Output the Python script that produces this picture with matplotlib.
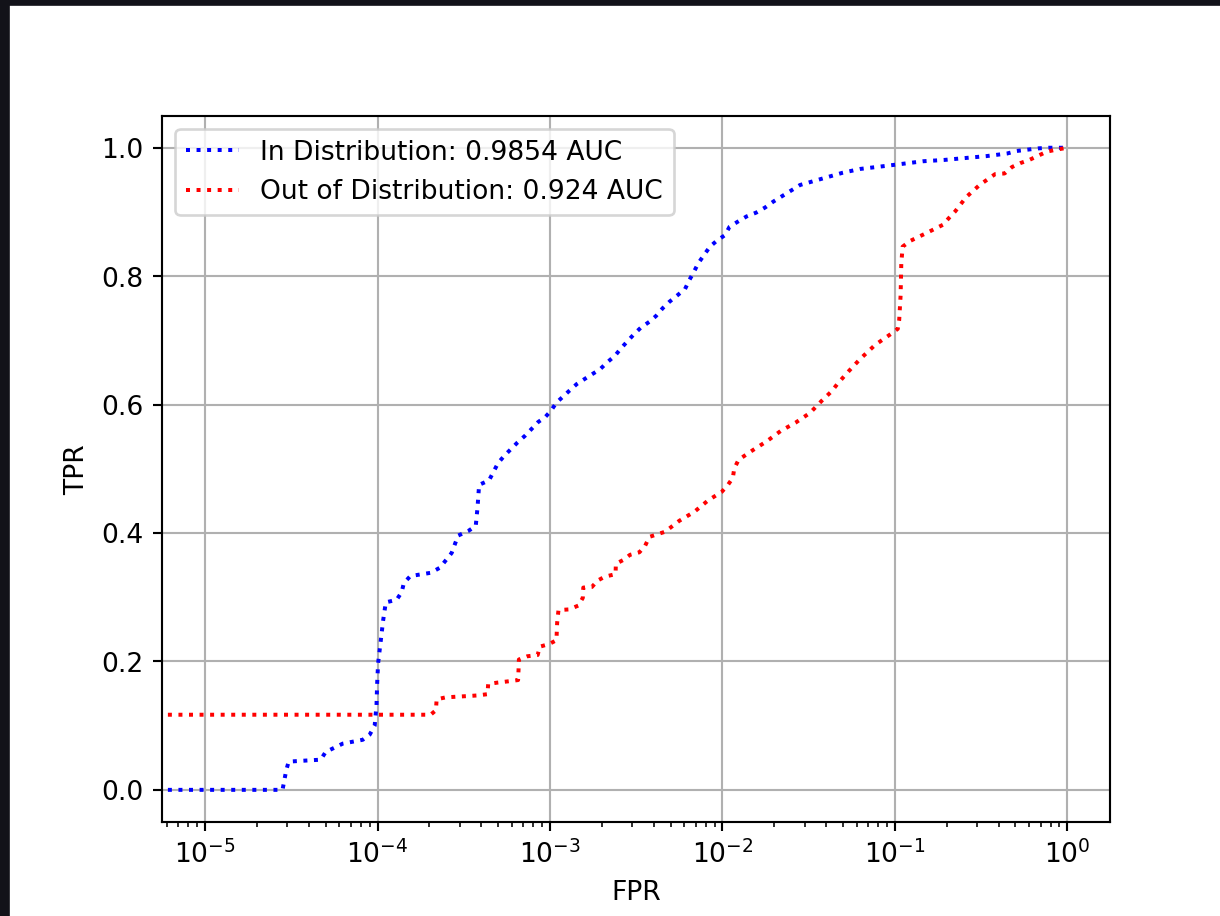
import matplotlib
matplotlib.use('Agg')
import matplotlib.pyplot as plt
from matplotlib.patches import Rectangle

# ROC points (log x axis)
fpr_in = [0, 2.81e-5, 2.95e-5, 3.05e-5, 4.68e-5, 5.0e-5, 6.28e-5, 8.2e-5, 9.0e-5, 9.62e-5,
          9.86e-5, 9.94e-5, 1.007e-4, 1.04e-4, 1.076e-4, 1.116e-4, 1.29e-4, 1.38e-4, 1.42e-4,
          1.55e-4, 2.03e-4, 2.30e-4, 2.69e-4, 2.93e-4, 3.35e-4, 3.71e-4, 3.80e-4, 3.88e-4,
          4.43e-4, 5.0e-4, 5.42e-4, 6.48e-4, 7.2e-4, 8.55e-4, 9.34e-4, 1.01e-3, 1.09e-3,
          1.30e-3, 1.43e-3, 1.70e-3, 1.95e-3, 2.15e-3, 2.38e-3, 2.57e-3, 2.82e-3, 3.08e-3,
          3.37e-3, 3.77e-3, 4.12e-3, 4.50e-3, 4.92e-3, 5.47e-3, 6.07e-3, 6.43e-3, 6.84e-3,
          7.24e-3, 7.82e-3, 8.47e-3, 9.26e-3, 1.035e-2, 1.10e-2, 1.23e-2, 1.38e-2, 1.57e-2,
          1.77e-2, 1.97e-2, 2.23e-2, 2.82e-2, 3.8e-2, 4.97e-2, 6.29e-2, 8.41e-2, 0.111,
          0.146, 0.193, 0.256, 0.340, 0.447, 0.510, 0.676, 0.778, 1.0]
tpr_in = [0, 0, 0.030, 0.044, 0.047, 0.059, 0.072, 0.078, 0.086, 0.100,
          0.132, 0.165, 0.197, 0.229, 0.263, 0.292, 0.296, 0.308, 0.322,
          0.333, 0.338, 0.346, 0.369, 0.396, 0.403, 0.411, 0.440, 0.475,
          0.482, 0.509, 0.520, 0.541, 0.552, 0.573, 0.580, 0.590, 0.603,
          0.622, 0.632, 0.645, 0.655, 0.666, 0.676, 0.687, 0.699, 0.710,
          0.720, 0.729, 0.738, 0.750, 0.760, 0.770, 0.780, 0.794, 0.807,
          0.820, 0.833, 0.846, 0.855, 0.864, 0.877, 0.885, 0.893, 0.899,
          0.907, 0.916, 0.925, 0.942, 0.952, 0.961, 0.967, 0.971, 0.975,
          0.979, 0.981, 0.984, 0.987, 0.991, 0.995, 0.999, 1.0, 1.0]

fpr_out = [0, 0, 2.03e-4, 2.18e-4, 2.20e-4, 2.48e-4, 2.84e-4, 3.30e-4, 3.78e-4, 4.34e-4,
           4.38e-4, 4.96e-4, 5.72e-4, 6.53e-4, 6.57e-4, 6.60e-4, 7.38e-4, 8.48e-4, 8.73e-4,
           9.86e-4, 1.09e-3, 1.10e-3, 1.12e-3, 1.29e-3, 1.46e-3, 1.55e-3, 1.56e-3, 1.75e-3,
           1.89e-3, 2.08e-3, 2.40e-3, 2.41e-3, 2.66e-3, 2.91e-3, 3.30e-3, 3.56e-3, 3.77e-3,
           4.65e-3, 5.62e-3, 6.87e-3, 8.28e-3, 9.90e-3, 1.07e-2, 1.15e-2, 1.17e-2, 1.24e-2,
           1.50e-2, 1.81e-2, 2.18e-2, 2.66e-2, 3.22e-2, 3.77e-2, 4.31e-2, 4.67e-2, 5.4e-2,
           6.29e-2, 7.69e-2, 9.49e-2, 0.104, 0.106, 0.108, 0.109, 0.111, 0.123, 0.152,
           0.190, 0.205, 0.224, 0.259, 0.310, 0.382, 0.433, 0.478, 0.533, 0.602, 0.762,
           0.863, 1.0]
tpr_out = [0, 0.117, 0.117, 0.124, 0.141, 0.144, 0.145, 0.146, 0.147, 0.149,
           0.165, 0.167, 0.169, 0.171, 0.187, 0.203, 0.208, 0.210, 0.223,
           0.227, 0.233, 0.260, 0.280, 0.281, 0.287, 0.299, 0.315, 0.316,
           0.326, 0.332, 0.336, 0.352, 0.358, 0.366, 0.370, 0.380, 0.394,
           0.402, 0.419, 0.433, 0.451, 0.464, 0.474, 0.486, 0.500, 0.514,
           0.529, 0.543, 0.559, 0.572, 0.587, 0.606, 0.621, 0.633, 0.652,
           0.671, 0.693, 0.710, 0.718, 0.732, 0.770, 0.820, 0.846, 0.855, 0.867,
           0.880, 0.890, 0.901, 0.923, 0.942, 0.959, 0.960, 0.970, 0.976, 0.981, 0.994,
           0.997, 1.0]

auc_in = 0.9854
auc_out = 0.924

dpi = 191.2
fig = plt.figure(figsize=(1220.4 / dpi, 916.4 / dpi), dpi=dpi)
# dark screenshot border on top and left
fig.patches.append(Rectangle((0, 1 - 4.5 / 916), 1, 4.5 / 916, transform=fig.transFigure,
                             color='#121219', zorder=10))
fig.patches.append(Rectangle((0, 0), 8 / 1220, 1, transform=fig.transFigure,
                             color='#121219', zorder=10))

ax = fig.add_axes([162 / 1220, 94 / 916, 948 / 1220, 706 / 916])
ax.plot(fpr_in, tpr_in, 'b:', label='In Distribution: ' + str(auc_in) + ' AUC')
ax.plot(fpr_out, tpr_out, 'r:', label='Out of Distribution: ' + str(auc_out) + ' AUC')
ax.set_xscale('log')
ax.set_xlim(10 ** -5.25, 10 ** 0.25)
ax.set_ylim(-0.05, 1.05)
ax.grid(True)
ax.set_xlabel('FPR')
ax.set_ylabel('TPR')
ax.legend(loc='upper left')

fig.savefig('out.png', dpi=dpi)
